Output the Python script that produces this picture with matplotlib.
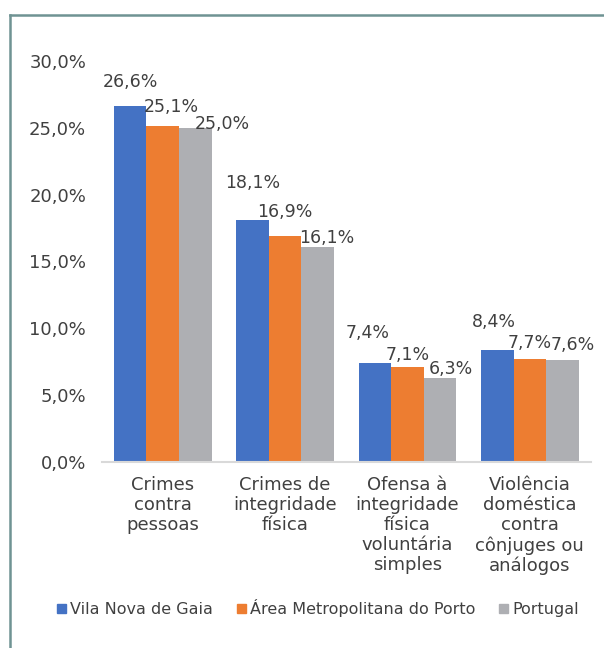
import matplotlib
matplotlib.use("Agg")
import matplotlib.pyplot as plt
from matplotlib.lines import Line2D
import numpy as np

categories = ["Crimes\ncontra\npessoas", "Crimes de\nintegridade\nfísica",
              "Ofensa à\nintegridade\nfísica\nvoluntária\nsimples",
              "Violência\ndoméstica\ncontra\ncônjuges ou\nanálogos"]
series_names = ["Vila Nova de Gaia", "Área Metropolitana do Porto", "Portugal"]
vila_nova = [26.6, 18.1, 7.4, 8.4]
amp = [25.1, 16.9, 7.1, 7.7]
portugal = [25.0, 16.1, 6.3, 7.6]
yticks = [0, 5, 10, 15, 20, 25, 30]

colors = ["#4472C4", "#ED7D31", "#AEAFB3"]
text_color = "#404040"
# label offsets (pixels) relative to bar top centre, per group / series
label_offsets = [
    [(0, 24), (9, 19), (27, 4)],
    [(0, 37), (0, 24), (9, 9)],
    [(-7, 30), (0, 12), (11, 9)],
    [(-3, 28), (0, 16), (10, 15)],
]

plt.rcParams['font.family'] = ['DejaVu Sans']
fig = plt.figure(figsize=(6.04, 6.48), dpi=100)
ax = fig.add_axes([101.5/604, 1-462/648, (591-101.5)/604, (462-61)/648])

x = np.arange(len(categories))
w = 0.266
all_series = [vila_nova, amp, portugal]
for i, (vals, c, name) in enumerate(zip(all_series, colors, series_names)):
    bars = ax.bar(x + (i-1)*w, vals, width=w, color=c, label=name, zorder=2)
    for j, (b, v) in enumerate(zip(bars, vals)):
        dx, dy = label_offsets[j][i]
        ax.annotate(f"{v:.1f}".replace(".", ",") + "%",
                    xy=(b.get_x() + b.get_width()/2, v),
                    xytext=(dx, dy), textcoords="offset pixels",
                    ha="center", va="center", fontsize=12.5, color=text_color)

ax.set_xlim(-0.5, 3.5)
ax.set_ylim(0, 30)
ax.set_yticks(yticks)
ax.set_yticklabels([f"{t:.1f}".replace(".", ",") + "%" for t in yticks],
                   fontsize=13, color=text_color)
ax.set_xticks(x)
ax.set_xticklabels(categories, fontsize=13, color=text_color, linespacing=1.15,
                   va="top")
ax.tick_params(axis="both", length=0)
ax.tick_params(axis="y", pad=11)
ax.tick_params(axis="x", pad=10)
for s in ["top", "right", "left"]:
    ax.spines[s].set_visible(False)
ax.spines["bottom"].set_color("#D9D9D9")
ax.spines["bottom"].set_linewidth(1.5)

handles = [plt.Rectangle((0, 0), 1, 1, color=c) for c in colors]
fig.legend(handles, series_names, loc="center", bbox_to_anchor=(318/604, 1-608/648),
           ncol=3, frameon=False, fontsize=11.5, handlelength=0.55, handleheight=0.55,
           handletextpad=0.25, columnspacing=1.5, labelcolor=text_color)

border = "#6F9393"
fig.add_artist(Line2D([9.5/604, 9.5/604], [0, 1-15/648], color=border, lw=1.8,
                      transform=fig.transFigure))
fig.add_artist(Line2D([9.5/604, 1], [1-15/648, 1-15/648], color=border, lw=1.8,
                      transform=fig.transFigure))

fig.savefig("out.png", dpi=100)
